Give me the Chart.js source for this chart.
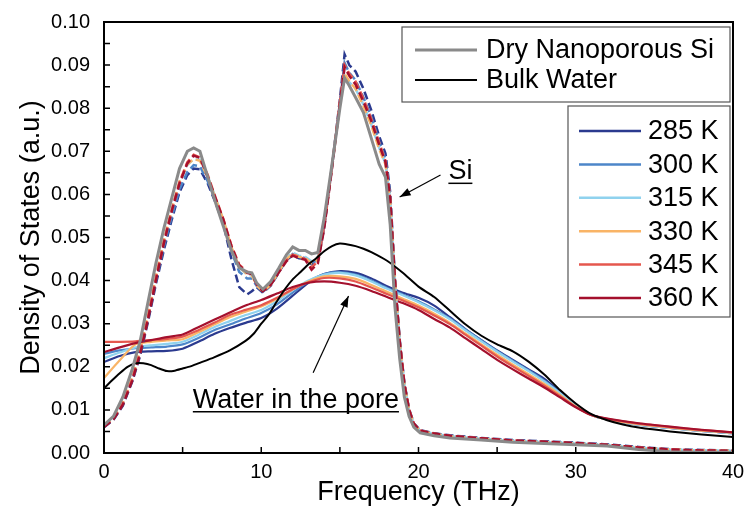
<!DOCTYPE html>
<html><head><meta charset="utf-8">
<script src="https://cdn.jsdelivr.net/npm/chart.js@4.4.1/dist/chart.umd.min.js"></script>
<style>html,body{margin:0;padding:0;background:#fff}#wrap{width:746px;height:510px;position:relative}</style>
</head><body><div id="wrap"><canvas id="c" width="746" height="510"></canvas></div>
<script>
// ---- data (THz, a.u.) ----
const siFreq = [0,0.6,1.2,1.8,2.3,2.8,3.3,3.8,4.3,4.8,5.3,5.7,6.1,6.6,7.1,7.6,8.1,8.6,9.1,9.4,9.7,10.1,10.6,11.1,11.6,12.0,12.4,12.8,13.2,13.6,14.0,14.5,15.0,15.3,15.6,16.0,16.5,17.0,17.5,17.9,18.2,18.5,18.8,19.1,19.4,19.7,20.1,21,22,24,26,28,30,32,34,36,38,40];
const drySi  = [0.0065,0.0085,0.0130,0.0195,0.0260,0.0350,0.0440,0.0520,0.0590,0.0660,0.0700,0.0708,0.0700,0.0640,0.0580,0.0525,0.0470,0.0430,0.0420,0.0418,0.0395,0.0380,0.0398,0.0428,0.0460,0.0478,0.0470,0.0470,0.0462,0.0465,0.0545,0.0670,0.0800,0.0870,0.0852,0.0825,0.0790,0.0730,0.0670,0.0640,0.0530,0.0340,0.0220,0.0130,0.0085,0.0060,0.0047,0.0040,0.0035,0.0030,0.0025,0.0022,0.0019,0.0016,0.0008,0.0003,0.0002,0.0002];
const si285 = [0.0060,0.0077,0.0110,0.0166,0.0226,0.0305,0.0392,0.0470,0.0540,0.0605,0.0645,0.0660,0.0658,0.0625,0.0580,0.0530,0.0450,0.0385,0.0368,0.0375,0.0385,0.0372,0.0388,0.0418,0.0448,0.0458,0.0452,0.0450,0.0438,0.0446,0.0522,0.0665,0.0820,0.0925,0.0900,0.0885,0.0845,0.0795,0.0735,0.0695,0.0605,0.0408,0.0265,0.0163,0.0102,0.0069,0.0053,0.0046,0.0041,0.0035,0.0030,0.0027,0.0024,0.0020,0.0014,0.0009,0.0007,0.0006];
const si300 = [0.0061,0.0079,0.0113,0.0170,0.0232,0.0312,0.0400,0.0478,0.0548,0.0612,0.0652,0.0668,0.0665,0.0630,0.0585,0.0535,0.0468,0.0420,0.0405,0.0405,0.0388,0.0374,0.0390,0.0420,0.0450,0.0462,0.0456,0.0452,0.0440,0.0448,0.0525,0.0665,0.0812,0.0905,0.0882,0.0865,0.0825,0.0780,0.0722,0.0682,0.0595,0.0403,0.0262,0.0161,0.0101,0.0068,0.0052,0.0045,0.0040,0.0034,0.0029,0.0026,0.0023,0.0019,0.0013,0.0008,0.0006,0.0005];
const si315 = [0.0062,0.0081,0.0116,0.0174,0.0238,0.0318,0.0408,0.0490,0.0562,0.0628,0.0668,0.0682,0.0680,0.0642,0.0592,0.0540,0.0476,0.0430,0.0414,0.0412,0.0392,0.0376,0.0392,0.0422,0.0452,0.0465,0.0458,0.0455,0.0445,0.0452,0.0530,0.0668,0.0808,0.0877,0.0860,0.0845,0.0808,0.0762,0.0708,0.0672,0.0588,0.0400,0.0260,0.0159,0.0099,0.0067,0.0051,0.0044,0.0039,0.0033,0.0028,0.0025,0.0022,0.0018,0.0012,0.0008,0.0006,0.0005];
const si330 = [0.0063,0.0082,0.0118,0.0176,0.0240,0.0320,0.0410,0.0492,0.0565,0.0630,0.0670,0.0682,0.0678,0.0640,0.0590,0.0540,0.0478,0.0432,0.0415,0.0412,0.0390,0.0374,0.0390,0.0420,0.0450,0.0462,0.0455,0.0452,0.0440,0.0448,0.0528,0.0665,0.0810,0.0880,0.0862,0.0845,0.0805,0.0760,0.0705,0.0670,0.0585,0.0398,0.0258,0.0158,0.0099,0.0067,0.0051,0.0044,0.0039,0.0033,0.0028,0.0025,0.0022,0.0018,0.0012,0.0008,0.0006,0.0005];
const si345 = [0.0062,0.0080,0.0115,0.0172,0.0235,0.0315,0.0405,0.0490,0.0562,0.0628,0.0675,0.0692,0.0686,0.0645,0.0592,0.0542,0.0482,0.0437,0.0420,0.0416,0.0394,0.0377,0.0392,0.0420,0.0447,0.0460,0.0455,0.0450,0.0430,0.0445,0.0525,0.0665,0.0815,0.0900,0.0880,0.0862,0.0822,0.0775,0.0720,0.0678,0.0592,0.0402,0.0262,0.0161,0.0101,0.0068,0.0052,0.0045,0.0040,0.0034,0.0029,0.0026,0.0023,0.0019,0.0013,0.0008,0.0006,0.0005];
const si360 = [0.0060,0.0078,0.0112,0.0168,0.0230,0.0310,0.0400,0.0485,0.0560,0.0625,0.0672,0.0690,0.0685,0.0640,0.0590,0.0540,0.0480,0.0435,0.0418,0.0415,0.0392,0.0375,0.0390,0.0418,0.0445,0.0458,0.0452,0.0448,0.0425,0.0440,0.0520,0.0660,0.0810,0.0895,0.0875,0.0855,0.0815,0.0770,0.0715,0.0675,0.0590,0.0400,0.0260,0.0160,0.0100,0.0068,0.0052,0.0045,0.0040,0.0034,0.0029,0.0026,0.0023,0.0019,0.0013,0.0008,0.0006,0.0005];

const bulkFreq  = [0,0.5,1,1.5,2,2.5,3,3.5,4,4.5,5,5.5,6,7,8,9,9.5,10,10.5,11,11.5,12,12.5,13,13.5,14,14.5,15,15.5,16,16.5,17,18,19,20,21,22,23,24,25,26,27,28,29,30,31,32,33,34,36,38,40];
const bulkWater = [0.0150,0.0168,0.0185,0.0200,0.0208,0.0208,0.0204,0.0196,0.0190,0.0191,0.0196,0.0201,0.0208,0.0222,0.0238,0.0260,0.0276,0.0300,0.0322,0.0352,0.0380,0.0403,0.0420,0.0438,0.0452,0.0468,0.0480,0.0486,0.0484,0.0480,0.0474,0.0466,0.0446,0.0418,0.0386,0.0362,0.0330,0.0298,0.0272,0.0252,0.0236,0.0212,0.0182,0.0146,0.0115,0.0090,0.0076,0.0066,0.0059,0.0050,0.0043,0.0037];

const poreFreq = [0,1,2,3,4,5,6,7,8,9,10,11,12,13,14,15,16,17,18,19,20,21,22,23,24,25,26,27,28,29,30,31,32,34,36,38,40];
const pore285 = [0.0211,0.0225,0.0234,0.0236,0.0237,0.0242,0.0258,0.0276,0.0290,0.0302,0.0313,0.0335,0.0365,0.0395,0.0415,0.0422,0.0418,0.0405,0.0387,0.0372,0.0360,0.0342,0.0315,0.0287,0.0262,0.0238,0.0216,0.0194,0.0172,0.0142,0.0112,0.0088,0.0078,0.0066,0.0058,0.0051,0.0046];
const pore300 = [0.0230,0.0238,0.0243,0.0245,0.0247,0.0252,0.0267,0.0285,0.0298,0.0312,0.0325,0.0345,0.0372,0.0398,0.0415,0.0420,0.0414,0.0400,0.0383,0.0368,0.0352,0.0333,0.0312,0.0286,0.0261,0.0237,0.0214,0.0192,0.0168,0.0140,0.0111,0.0088,0.0078,0.0066,0.0058,0.0051,0.0046];
const pore315 = [0.0220,0.0233,0.0245,0.0250,0.0253,0.0258,0.0274,0.0292,0.0306,0.0320,0.0332,0.0352,0.0378,0.0400,0.0414,0.0418,0.0412,0.0398,0.0381,0.0366,0.0350,0.0331,0.0310,0.0284,0.0259,0.0235,0.0212,0.0190,0.0166,0.0139,0.0110,0.0088,0.0078,0.0066,0.0058,0.0051,0.0046];
const pore330 = [0.0174,0.0215,0.0252,0.0258,0.0261,0.0264,0.0280,0.0298,0.0315,0.0328,0.0340,0.0358,0.0380,0.0398,0.0410,0.0410,0.0404,0.0390,0.0374,0.0358,0.0342,0.0323,0.0302,0.0277,0.0252,0.0228,0.0205,0.0183,0.0160,0.0135,0.0108,0.0088,0.0078,0.0067,0.0059,0.0052,0.0047];
const pore345 = [0.0258,0.0258,0.0259,0.0262,0.0265,0.0270,0.0285,0.0302,0.0320,0.0332,0.0343,0.0360,0.0380,0.0396,0.0406,0.0405,0.0398,0.0384,0.0369,0.0354,0.0338,0.0319,0.0299,0.0274,0.0249,0.0224,0.0201,0.0179,0.0156,0.0132,0.0107,0.0088,0.0079,0.0068,0.0060,0.0053,0.0048];
const pore360 = [0.0234,0.0245,0.0255,0.0262,0.0269,0.0275,0.0292,0.0309,0.0326,0.0342,0.0355,0.0370,0.0385,0.0395,0.0398,0.0395,0.0388,0.0376,0.0362,0.0348,0.0332,0.0311,0.0291,0.0266,0.0241,0.0216,0.0194,0.0173,0.0152,0.0129,0.0106,0.0088,0.0080,0.0069,0.0061,0.0054,0.0048];

const tempLabels = ['285 K','300 K','315 K','330 K','345 K','360 K'];
const tempColors = ['#2b3a8f','#4d86c9','#8fd2ee','#f9b466','#e5574e','#a4102d'];
const siWet = [si285, si300, si315, si330, si345, si360];
const poreWater = [pore285, pore300, pore315, pore330, pore345, pore360];
const refLabels = ['Dry Nanoporous Si','Bulk Water'];
const refColors = ['#8a8a8a','#000000'];
const yTickLabels = ['0.00','0.01','0.02','0.03','0.04','0.05','0.06','0.07','0.08','0.09','0.10'];
const xTickLabels = ['0','10','20','30','40'];
// annotations: text anchor (THz, a.u.) and arrow tail/head
const noteSi    = {text:'Si', x:21.9, y:0.0635, from:[21.4,0.0645], to:[18.8,0.0594]};
const noteWater = {text:'Water in the pore', x:5.65, y:0.0105, from:[13.3,0.0186], to:[15.55,0.0364]};

const FONT = '"Liberation Sans", Arial, Helvetica, sans-serif';
const BIG = 27;
const pts = (xs, ys) => xs.map((f, i) => ({x: f, y: ys[i]}));

const datasets = [];
datasets.push({label: refLabels[0], data: pts(siFreq, drySi), borderColor: refColors[0], borderWidth: 3, order: 0, tension: 0});
datasets.push({label: refLabels[1], data: pts(bulkFreq, bulkWater), borderColor: refColors[1], borderWidth: 2, order: 1, tension: 0.2});
for (let i = 0; i < 6; i++) {
  datasets.push({label: tempLabels[i] + ' Si', data: pts(siFreq, siWet[i]), borderColor: tempColors[i], borderWidth: 2.5, borderDash: [8, 4], order: 10 - i, tension: 0});
}
for (let i = 0; i < 6; i++) {
  datasets.push({label: tempLabels[i], data: pts(poreFreq, poreWater[i]), borderColor: tempColors[i], borderWidth: 2.2, order: 20 - i, tension: 0.25});
}

function arrow(ctx, x1, y1, x2, y2) {
  ctx.beginPath(); ctx.moveTo(x1, y1); ctx.lineTo(x2, y2); ctx.stroke();
  const ang = Math.atan2(y2 - y1, x2 - x1), L = 11, W = 4;
  ctx.beginPath();
  ctx.moveTo(x2, y2);
  ctx.lineTo(x2 - L * Math.cos(ang) + W * Math.sin(ang), y2 - L * Math.sin(ang) - W * Math.cos(ang));
  ctx.lineTo(x2 - L * Math.cos(ang) - W * Math.sin(ang), y2 - L * Math.sin(ang) + W * Math.cos(ang));
  ctx.closePath(); ctx.fill();
}

const overlay = {
  id: 'overlay',
  afterDraw(chart) {
    const {ctx, chartArea: a, scales: {x, y}} = chart;
    ctx.save();
    // frame
    ctx.strokeStyle = '#000'; ctx.lineWidth = 2;
    ctx.strokeRect(a.left, a.top, a.right - a.left, a.bottom - a.top);
    // inward ticks
    ctx.lineWidth = 1.5;
    ctx.beginPath();
    for (let k = 1; k < 20; k++) {
      const py = y.getPixelForValue(k * 0.005);
      ctx.moveTo(a.left, py); ctx.lineTo(a.left + 6, py);
    }
    for (let k = 1; k < 8; k++) {
      const px = x.getPixelForValue(k * 5);
      ctx.moveTo(px, a.bottom); ctx.lineTo(px, a.bottom - 6);
    }
    ctx.stroke();

    // legends
    ctx.font = BIG + 'px ' + FONT;
    ctx.textBaseline = 'middle';
    ctx.textAlign = 'left';
    ctx.fillStyle = '#fff';
    ctx.strokeStyle = '#555'; ctx.lineWidth = 1.2;
    const b1 = {l: a.right - 331, t: a.top + 5, w: 328, h: 75};
    ctx.fillRect(b1.l, b1.t, b1.w, b1.h); ctx.strokeRect(b1.l, b1.t, b1.w, b1.h);
    for (let i = 0; i < 2; i++) {
      const cy = b1.t + 23 + i * 30;
      ctx.strokeStyle = refColors[i]; ctx.lineWidth = i === 0 ? 3 : 2;
      ctx.beginPath(); ctx.moveTo(b1.l + 13, cy); ctx.lineTo(b1.l + 75, cy); ctx.stroke();
      ctx.fillStyle = '#000'; ctx.fillText(refLabels[i], b1.l + 84, cy + 1);
    }
    const b2 = {l: a.right - 165, t: a.top + 84, w: 162, h: 211};
    ctx.fillStyle = '#fff'; ctx.strokeStyle = '#555'; ctx.lineWidth = 1.2;
    ctx.fillRect(b2.l, b2.t, b2.w, b2.h); ctx.strokeRect(b2.l, b2.t, b2.w, b2.h);
    for (let i = 0; i < 6; i++) {
      const cy = b2.t + 25 + i * 33.4;
      ctx.strokeStyle = tempColors[i]; ctx.lineWidth = 2.5;
      ctx.beginPath(); ctx.moveTo(b2.l + 11, cy); ctx.lineTo(b2.l + 73, cy); ctx.stroke();
      ctx.fillStyle = '#000'; ctx.fillText(tempLabels[i], b2.l + 80, cy + 1);
    }

    // annotations
    ctx.fillStyle = '#000'; ctx.strokeStyle = '#000';
    ctx.textBaseline = 'alphabetic';
    for (const n of [noteSi, noteWater]) {
      const tx = x.getPixelForValue(n.x), ty = y.getPixelForValue(n.y);
      ctx.font = BIG + 'px ' + FONT;
      ctx.fillText(n.text, tx, ty);
      const w = ctx.measureText(n.text).width;
      ctx.lineWidth = 1.5;
      ctx.beginPath(); ctx.moveTo(tx, ty + 4); ctx.lineTo(tx + w, ty + 4); ctx.stroke();
      ctx.lineWidth = 1.2;
      arrow(ctx, x.getPixelForValue(n.from[0]), y.getPixelForValue(n.from[1]),
                 x.getPixelForValue(n.to[0]), y.getPixelForValue(n.to[1]));
    }
    ctx.restore();
  }
};

new Chart(document.getElementById('c'), {
  type: 'line',
  data: {datasets},
  options: {
    responsive: false,
    animation: false,
    events: [],
    layout: {padding: {left: 0, top: 22, right: 13, bottom: 0}},
    elements: {point: {radius: 0}, line: {fill: false}},
    plugins: {legend: {display: false}, tooltip: {enabled: false}},
    scales: {
      x: {
        type: 'linear', min: 0, max: 40,
        afterFit(s) { s.height = 57; s.paddingLeft = 0; s.paddingRight = 0; },
        grid: {display: false, drawTicks: false},
        border: {display: true, color: '#000', width: 2},
        ticks: {stepSize: 10, padding: 7, color: '#000', font: {family: FONT, size: 20},
                callback: (v) => xTickLabels[Math.round(v / 10)] ?? ''},
        title: {display: true, text: 'Frequency (THz)', color: '#000', font: {family: FONT, size: BIG}, padding: {top: 0, bottom: 1}}
      },
      y: {
        type: 'linear', min: 0, max: 0.1,
        afterFit(s) { s.width = 104; s.paddingTop = 0; s.paddingBottom = 0; },
        grid: {display: false, drawTicks: false},
        border: {display: true, color: '#000', width: 2},
        ticks: {stepSize: 0.01, padding: 14, color: '#000', font: {family: FONT, size: 20},
                callback: (v) => yTickLabels[Math.round(v * 100)] ?? ''},
        title: {display: true, text: 'Density of States (a.u.)', color: '#000', font: {family: FONT, size: BIG}, padding: {top: 15, bottom: 0}}
      }
    }
  },
  plugins: [overlay]
});
</script>
</body></html>
